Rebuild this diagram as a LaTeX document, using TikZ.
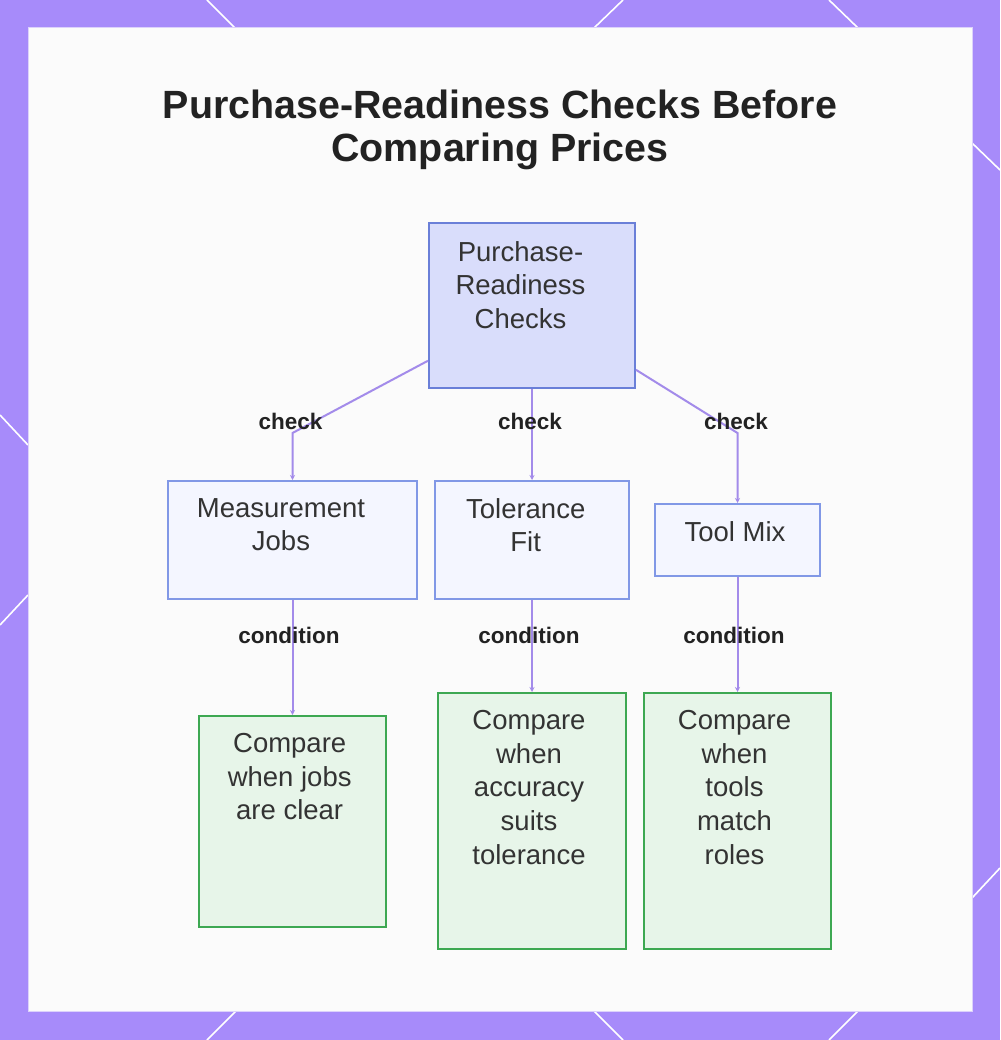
\documentclass[tikz,border=0pt]{standalone}
\usepackage{fontspec}
\setmainfont{Liberation Sans}
\usetikzlibrary{arrows.meta}
\definecolor{frame}{HTML}{A78BFA}
\definecolor{panelline}{HTML}{DCD2FB}
\definecolor{panelfill}{HTML}{FBFBFB}
\definecolor{rootfill}{HTML}{D9DDFB}
\definecolor{rootdraw}{HTML}{6A7FD8}
\definecolor{childfill}{HTML}{F4F6FF}
\definecolor{childdraw}{HTML}{8198E6}
\definecolor{leaffill}{HTML}{E7F5E9}
\definecolor{leafdraw}{HTML}{3DA852}
\definecolor{edgecol}{HTML}{A38BEA}
\definecolor{ink}{HTML}{333333}
\definecolor{titleink}{HTML}{222222}
\begin{document}
\begin{tikzpicture}[x=1pt,y=-1pt,
  rootbox/.style={draw=rootdraw, fill=rootfill, line width=2pt, inner sep=0pt},
  childbox/.style={draw=childdraw, fill=childfill, line width=2pt, inner sep=0pt},
  leafbox/.style={draw=leafdraw, fill=leaffill, line width=2pt, inner sep=0pt},
  txt/.style={anchor=north, inner sep=0pt, align=center, text=ink,
    font=\fontsize{27.5}{33.7}\selectfont},
  lbl/.style={anchor=north, inner sep=0pt, text=titleink,
    font=\bfseries\fontsize{22.5}{27}\selectfont},
  conn/.style={draw=edgecol, line width=2pt, -{Stealth[length=5pt,width=5pt]}},
  frameline/.style={draw=white, line width=1.6pt}
]
% frame and panel
\fill[frame] (0,0) rectangle (1000,1040);
\useasboundingbox (0,0) rectangle (1000,1040);
\draw[frameline] (207,0) -- (235,28);
\draw[frameline] (623,0) -- (594,28);
\draw[frameline] (829,0) -- (858,28);
\draw[frameline] (236,1011) -- (207,1040);
\draw[frameline] (594,1011) -- (623,1040);
\draw[frameline] (858,1011) -- (829,1040);
\draw[frameline] (0,415) -- (28,445);
\draw[frameline] (28,595) -- (0,625);
\draw[frameline] (972,143) -- (1000,170);
\draw[frameline] (972,898) -- (1000,868);
\draw[draw=panelline, fill=panelfill, line width=1pt] (28,28) rectangle (972,1011);

% title
\node[anchor=north, inner sep=0pt, align=center, text=titleink,
  font=\bfseries\fontsize{39.4}{43}\selectfont] (title) at (500,90)
  {Purchase-Readiness Checks Before\\Comparing Prices};

% boxes
\node[rootbox, minimum width=206pt, minimum height=165pt] (root) at (532,305.5) {};
\node[childbox, minimum width=249pt, minimum height=118pt] (mj) at (292.5,540) {};
\node[childbox, minimum width=194pt, minimum height=118pt] (tf) at (532,540) {};
\node[childbox, minimum width=165pt, minimum height=72pt] (tm) at (737.5,540) {};
\node[leafbox, minimum width=187pt, minimum height=211pt] (g1) at (292.5,821.5) {};
\node[leafbox, minimum width=188pt, minimum height=256pt] (g2) at (532,821) {};
\node[leafbox, minimum width=187pt, minimum height=256pt] (g3) at (737.5,821) {};

% box texts
\node[txt] (roottxt) at (520.5,241) {Purchase-\\Readiness\\Checks};
\node[txt] (mjtxt) at (281,498) {Measurement\\Jobs};
\node[txt] (tftxt) at (525.7,498) {Tolerance\\Fit};
\node[txt] (tmtxt) at (735,521) {Tool Mix};
\node[txt] (g1txt) at (289.7,733) {Compare\\when jobs\\are clear};
\node[txt] (g2txt) at (529,710) {Compare\\when\\accuracy\\suits\\tolerance};
\node[txt] (g3txt) at (734.5,710) {Compare\\when\\tools\\match\\roles};

% connectors
\coordinate (b1) at (292.5,433);
\coordinate (b3) at (737.5,433);
\draw[conn] (root) -- (b1) -- (mj);
\draw[conn] (root) -- (tf);
\draw[conn] (root) -- (b3) -- (tm);
\draw[conn] (mj) -- (g1);
\draw[conn] (tf) -- (g2);
\draw[conn] (tm) -- (g3);

% connector labels
\node[lbl] (c1) at (290.6,413) {check};
\node[lbl] (c2) at (530,413) {check};
\node[lbl] (c3) at (736,413) {check};
\node[lbl] (d1) at (289,627) {condition};
\node[lbl] (d2) at (529,627) {condition};
\node[lbl] (d3) at (734,627) {condition};
\end{tikzpicture}
\end{document}
